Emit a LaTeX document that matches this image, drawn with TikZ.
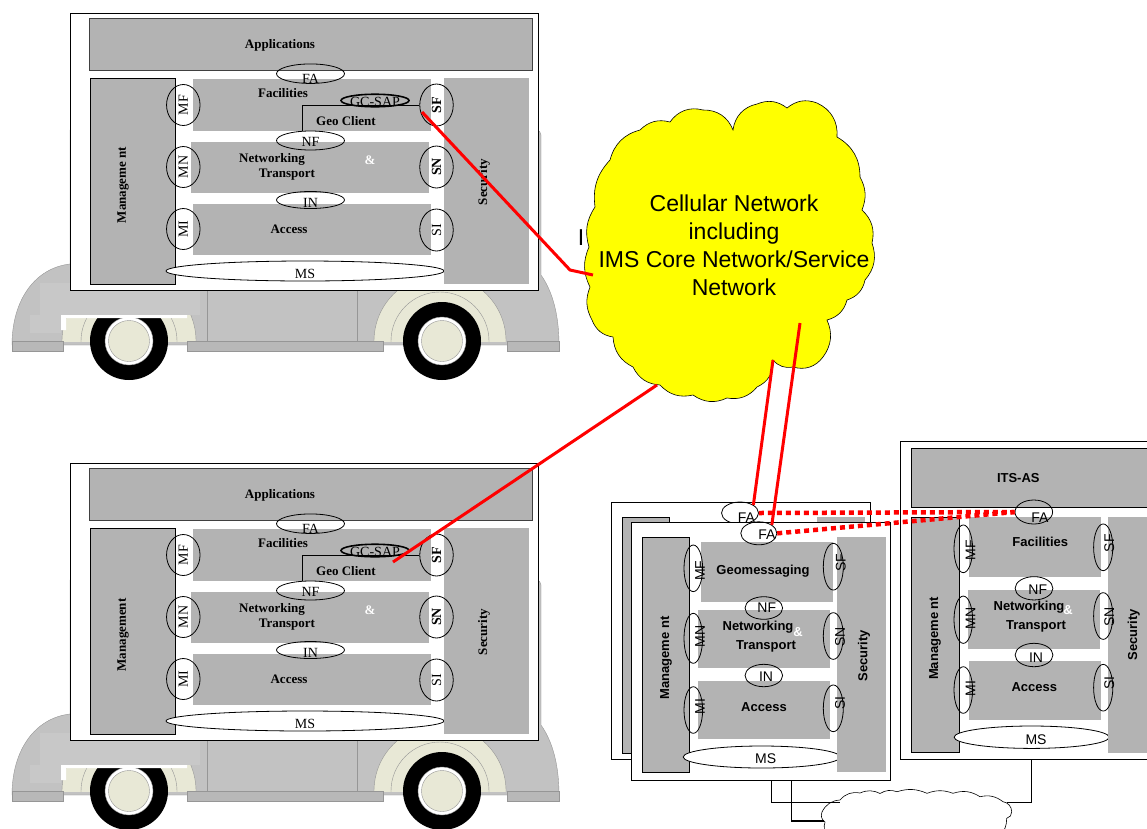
\documentclass[tikz,border=0pt]{standalone}
\usepackage{fontspec}
\setmainfont{Liberation Serif}
\setsansfont{Liberation Sans}
\usepackage{tikz}
\usetikzlibrary{shapes.geometric}

\definecolor{boxgray}{RGB}{179,179,179}
\definecolor{truckbody}{RGB}{194,194,194}
\definecolor{truckline}{RGB}{150,150,150}
\definecolor{truckcab}{RGB}{200,200,200}
\definecolor{truckstrip}{RGB}{184,184,184}
\definecolor{cream}{RGB}{232,232,214}
\definecolor{cloudyellow}{RGB}{255,255,0}
\definecolor{linkred}{RGB}{255,0,0}

% vehicle with its station: #1 name prefix, #2 vertical offset, #3 x of the radio link, #4 management label
\newcommand{\vehiclestack}[4]{%
\begin{scope}[shift={(0,#2)}]
% truck
\filldraw[fill=truckbody, draw=truckline] (12,345) .. controls (12,300) and (35,268) .. (70,264) -- (70,130) -- (536,130) .. controls (539,130) and (541,132) .. (541,135) -- (541,275) .. controls (553,292) and (559,316) .. (559,345) -- cycle;
\begin{scope}
\clip (0,100) rectangle (600,341);
\filldraw[fill=cream, draw=truckline] (129,341) circle[radius=67];
\draw[truckline] (129,341) circle[radius=48];
\filldraw[fill=cream, draw=truckline] (440,341) circle[radius=66];
\draw[truckline] (440,341) circle[radius=49];
\end{scope}
\draw[truckline] (207,290) -- (207,341) (357,290) -- (357,341);
\foreach \w in {129,442}{
  \fill[black] (\w,341) circle[radius=39];
  \filldraw[fill=white, draw=truckline] (\w,341) circle[radius=24];
  \filldraw[fill=cream, draw=truckline] (\w,341) circle[radius=20.5];
}
\fill[truckcab] (40,283) rectangle (200,315);
\fill[truckcab] (30,315) rectangle (61,333);
\fill[white] (61,315) rectangle (187,318) (61,315) rectangle (66,330);
\filldraw[fill=truckstrip, draw=truckline] (12,341) rectangle (63,351) (187,341) rectangle (383,351) (507,341) rectangle (559,351);
% station
\filldraw[station] (70,13) rectangle (538,290);
\filldraw[fill=boxgray, draw=black!75, line width=0.8pt] (89,18) rectangle (532,70);
\filldraw[sideblock] (90,78) rectangle (175.5,284);
\fill[layer] (193,79) rectangle (431,131);
\fill[layer] (191,142) rectangle (429,193);
\fill[layer] (193,204) rectangle (431,255);
\node[sap, fill=white, minimum width=278, minimum height=20, label={[lblserif, yshift=-3pt]center:MS}] (#1ms) at (305,271) {};
\fill[layer] (444,78) rectangle (529,284);
\node[nameserif] (#1apps) at (280,45.5) {Applications};
\node[nameserif] (#1fac) at (283,92.7) {Facilities};
\node[nameserif] (#1geo) at (346,121) {Geo Client};
\node[nameserif] (#1net) at (272,159) {Networking};
\node[nameserif] (#1trn) at (287,175) {Transport};
\node[nameserif, text=white] (#1amp) at (370,160) {\&};
\node[nameserif] (#1acc) at (289,229) {Access};
\node[nameserif, rotate=90] (#1mgmt) at (123,185) {#4};
\node[nameserif, rotate=90] (#1sec) at (484,182) {Security};
\node[sap, minimum width=68, minimum height=19.5, label={[lblserif, yshift=-5pt]center:FA}] (#1fa) at (310.5,73.7) {};
\node[sap, minimum width=68, minimum height=19, label={[lblserif, yshift=-1.5pt]center:NF}] (#1nf) at (310.5,140.5) {};
\node[sap, minimum width=68, minimum height=17, label={[lblserif, yshift=-3pt]center:IN}] (#1in) at (310.5,200) {};
\foreach \s/\y in {MF/105, MN/167, MI/229}
  \node[sap, minimum width=33.5, minimum height=41, label={[lblserif, rotate=90]center:\s}] (#1\s) at (183.3,\y) {};
\foreach \s/\y/\f in {SF/105/\bfseries, SN/167/\bfseries, SI/230/\relax}
  \node[sap, minimum width=33.5, minimum height=42, label={[lblserif, rotate=90]center:{\f\s}}] (#1\s) at (436.5,\y) {};
\node[sap, line width=1.6pt, minimum width=68, minimum height=12.5, label={[lblserif, yshift=-1pt]center:GC-SAP}] (#1gcsap) at (375,100.5) {};
\draw[line width=0.8pt] ([xshift=-8pt]#1nf.north) |- (#1SF.west);
\coordinate (#1gc) at (#3,112);
\end{scope}}

\begin{document}
\begin{tikzpicture}[x=1pt, y=-1pt,
  station/.style={fill=white, draw=black, line width=1pt},
  sideblock/.style={fill=boxgray, draw=black, line width=1pt},
  layer/.style={fill=boxgray},
  sap/.style={draw, ellipse, inner sep=0pt, line width=0.8pt},
  lblserif/.style={font=\fontsize{14}{16}\selectfont, inner sep=0pt},
  lblsans/.style={font=\sffamily\fontsize{14}{16}\selectfont, inner sep=0pt},
  nameserif/.style={font=\bfseries\fontsize{13}{15}\selectfont, inner sep=0pt},
  namesans/.style={font=\sffamily\bfseries\fontsize{13}{15}\selectfont, inner sep=0pt},
  cloudtext/.style={font=\sffamily\fontsize{23}{28}\selectfont, inner sep=0pt, align=center},
  redlink/.style={draw=linkred, line width=3pt},
  reddots/.style={draw=linkred, line width=4.5pt, dash pattern=on 5pt off 4pt},
  lanlink/.style={draw=black, line width=1.5pt}]
\clip (0,0) rectangle (1147,828);
\fill[white] (0,0) rectangle (1147,828);

\vehiclestack{carA}{0}{422}{Manageme nt}
\vehiclestack{carB}{450}{393}{Management}

% cellular network
\node[cloudtext] (hidden) at (581,238) {I};
\draw[fill=cloudyellow, line width=0.6pt] (595,207) to[bend left=25] (610,160) to[bend left=30] (640,130) to[bend left=30] (670,122) to[bend left=35] (703,110) to[bend left=35] (733,130) to[bend left=35] (757,104) to[bend left=30] (787,108) to[bend left=30] (817,103) to[bend left=35] (837,137) to[bend left=30] (860,177) to[bend left=25] (862,210) to[bend left=30] (872,243) to[bend left=30] (865,280) to[bend left=30] (847,300) to[bend left=30] (827,320) to[bend left=30] (823,357) to[bend left=35] (793,367) to[bend left=30] (773,360) to[bend left=35] (757,387) to[bend left=30] (727,398) to[bend left=30] (693,395) to[bend left=30] (660,385) to[bend left=30] (633,367) to[bend left=30] (613,337) to[bend left=30] (592,320) to[bend left=25] (590,287) to[bend left=25] (589,247) to[bend left=25] (595,207) -- cycle;
\node[cloudtext] (cellular) at (734,245) {Cellular Network\\including\\IMS Core Network/Service\\Network};
\coordinate (cloudA) at (593,275);
\coordinate (cloudB) at (657,385);
\coordinate (cloudC1) at (773,360);
\coordinate (cloudC2) at (800,323);

% roadside unit, back station
\filldraw[station] (611,502) rectangle (870,759);
\filldraw[sideblock] (622,517) rectangle (669,753);
\fill[layer] (817,517) rectangle (865,753);
\node[sap, minimum width=37, minimum height=22, label={[lblsans, xshift=6.5pt, yshift=-4.3pt]center:FA}] (rsubfa) at (740,513) {};

% roadside unit, front station
\filldraw[station] (631,522) rectangle (890,780);
\filldraw[sideblock] (642,537) rectangle (689,772);
\fill[layer] (701,542) rectangle (833,602);
\fill[layer] (698,610) rectangle (830,668);
\fill[layer] (698,681) rectangle (830,739);
\node[sap, fill=white, minimum width=157, minimum height=22, label={[lblsans, xshift=4pt, yshift=-1.3pt]center:MS}] (rsums) at (761.7,757) {};
\fill[layer] (837,537) rectangle (886,772);
\node[namesans] (rsugeo) at (763,570.7) {Geomessaging};
\node[namesans] (rsunet) at (758,627.3) {Networking};
\node[namesans, text=white] (rsuamp) at (798,632.3) {\&};
\node[namesans] (rsutrn) at (766,646) {Transport};
\node[namesans] (rsuacc) at (764,706.7) {Access};
\node[namesans, rotate=90] (rsumgmt) at (666,658) {Manageme nt};
\node[namesans, rotate=90] (rsusec) at (864,656) {Security};
\node[sap, minimum width=36, minimum height=23, label={[lblsans, xshift=8pt, yshift=-1.7pt]center:FA}] (rsufa) at (758.8,533.3) {};
\node[sap, minimum width=37.6, minimum height=22.6, label={[lblsans, xshift=3pt]center:NF}] (rsunf) at (763.8,608) {};
\node[sap, minimum width=37.6, minimum height=22.4, label={[lblsans, xshift=2.2pt, yshift=-1.2pt]center:IN}] (rsuin) at (763.8,675.5) {};
\node[sap, minimum width=18.6, minimum height=46.6, label={[lblsans, xshift=6.7pt, yshift=-2.4pt, rotate=90]center:MF}] (rsumf) at (693.3,568.3) {};
\node[sap, minimum width=18.6, minimum height=50, label={[lblsans, xshift=6.7pt, yshift=1.6pt, rotate=90]center:MN}] (rsumn) at (693.3,638.3) {};
\node[sap, minimum width=18.6, minimum height=46.6, label={[lblsans, xshift=6.7pt, yshift=3.3pt, rotate=90]center:MI}] (rsumi) at (693.3,710) {};
\node[sap, minimum width=20, minimum height=46.7, label={[lblsans, xshift=7.4pt, yshift=4pt, rotate=90]center:SF}] (rsusf) at (833.3,566.7) {};
\node[sap, minimum width=20, minimum height=46.7, label={[lblsans, xshift=6.7pt, yshift=-0.7pt, rotate=90]center:SN}] (rsusn) at (833.3,636) {};
\node[sap, minimum width=20, minimum height=46.7, label={[lblsans, xshift=6.7pt, yshift=5pt, rotate=90]center:SI}] (rsusi) at (833.3,708.3) {};
\coordinate (rsulan1) at (771.7,780);
\coordinate (rsulan2) at (791.7,780);

% ITS application server
\filldraw[station] (900.7,441.7) rectangle (1160,759.3);
\filldraw[fill=boxgray, draw=black, line width=1pt] (911.7,448.3) rectangle (1160,507.3);
\filldraw[sideblock] (911.5,517.3) rectangle (959.3,752.7);
\fill[layer] (969,517.3) rectangle (1100.7,576.7);
\fill[layer] (968,590) rectangle (1100,649);
\fill[layer] (969,660.7) rectangle (1100.6,720);
\node[sap, fill=white, minimum width=155, minimum height=22.4, label={[lblsans, xshift=4.4pt, yshift=-2pt]center:MS}] (asms) at (1031.6,737.2) {};
\fill[layer] (1107.6,517.3) rectangle (1160,752.7);
\node[namesans] (asits) at (1018.3,478.3) {ITS-AS};
\node[namesans] (asfac) at (1040.3,541.7) {Facilities};
\node[namesans] (asnet) at (1029,607.3) {Networking};
\node[namesans, text=white] (asamp) at (1068,610) {\&};
\node[namesans] (astrn) at (1036,626.7) {Transport};
\node[namesans] (asacc) at (1034.3,686.7) {Access};
\node[namesans, rotate=90] (asmgmt) at (935,638.3) {Manageme nt};
\node[namesans, rotate=90] (assec) at (1133.7,635) {Security};
\node[sap, minimum width=37.6, minimum height=24, label={[lblsans, xshift=6.2pt, yshift=-5.3pt]center:FA}] (asfa) at (1033.8,512) {};
\node[sap, minimum width=37.8, minimum height=23.3, label={[lblsans, xshift=3.8pt, yshift=-1.7pt]center:NF}] (asnf) at (1034,588.3) {};
\node[sap, minimum width=37.8, minimum height=23.4, label={[lblsans, xshift=2pt, yshift=-2.3pt]center:IN}] (asin) at (1034,655) {};
\node[sap, minimum width=18.6, minimum height=47.7, label={[lblsans, xshift=7.2pt, yshift=-1.2pt, rotate=90]center:MF}] (asmf) at (963.3,548.8) {};
\node[sap, minimum width=18.6, minimum height=47.3, label={[lblsans, xshift=7.2pt, yshift=1.4pt, rotate=90]center:MN}] (asmn) at (963.3,619.7) {};
\node[sap, minimum width=18.6, minimum height=46.6, label={[lblsans, xshift=7.2pt, yshift=1.7pt, rotate=90]center:MI}] (asmi) at (963.3,690) {};
\node[sap, minimum width=19.2, minimum height=46.7, label={[lblsans, xshift=6.1pt, yshift=4pt, rotate=90]center:SF}] (assf) at (1103.2,547.3) {};
\node[sap, minimum width=19.2, minimum height=46.7, label={[lblsans, xshift=6.1pt, yshift=-0.7pt, rotate=90]center:SN}] (assn) at (1103.2,616) {};
\node[sap, minimum width=19.2, minimum height=46.7, label={[lblsans, xshift=6.1pt, yshift=4.4pt, rotate=90]center:SI}] (assi) at (1103.2,687.7) {};
\coordinate (aslan) at (1031.7,759.3);

% local network between roadside unit and server
\draw[line width=0.6pt, fill=white] (822,812) to[bend left=30] (840,800) to[bend left=30] (860,793) to[bend left=25] (880,793.5) to[bend left=25] (897,791.7) to[bend left=20] (927,793.3) to[bend left=20] (953,793.3) to[bend left=25] (980,796.7) to[bend left=25] (1003,801.7) to[bend left=40] (1011.7,811.7) to[bend left=40] (1006.7,818.3) to[bend left=20] (1000,836) -- (828,836) to[bend left=30] (825,822) to[bend left=40] (822,812) -- cycle;
\coordinate (lanL1) at (840,802.3);
\coordinate (lanL2) at (824,821);
\coordinate (lanR) at (1006.7,802.3);
\draw[lanlink] (rsulan1) |- (lanL1);
\draw[lanlink] (rsulan2) |- (lanL2);
\draw[lanlink] (aslan) |- (lanR);

% radio links
\draw[redlink] (carAgc) -- (570,270) -- (cloudA);
\draw[redlink] (carBgc) -- (cloudB);
\draw[redlink] (cloudC1) -- (rsubfa.north east);
\draw[redlink] (cloudC2) -- (rsufa.north east);
\draw[reddots] (rsubfa.east) -- (asfa.west);
\draw[reddots] (rsufa.east) -- (asfa.west);
\end{tikzpicture}
\end{document}
